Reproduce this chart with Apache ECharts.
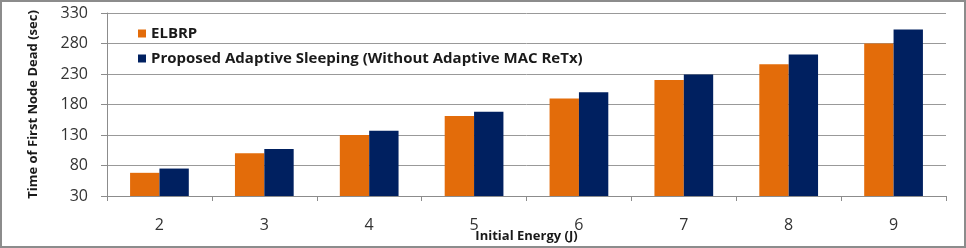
<!DOCTYPE html>
<html><head><meta charset="utf-8">
<script src="https://cdn.jsdelivr.net/npm/echarts@6/dist/echarts.min.js"></script>
<style>html,body{margin:0;padding:0;background:#fff}#c{width:966px;height:248px;box-sizing:border-box;border:2px solid #8c8c8c}</style>
</head><body><div id="c"></div>
<script>
const categories = ['2','3','4','5','6','7','8','9'];
const elbrp = [68, 100, 130, 161, 190, 220, 246, 280];
const proposed = [75, 107, 137, 168, 200, 229, 262, 303];
const seriesNames = ['ELBRP', 'Proposed Adaptive Sleeping (Without Adaptive MAC ReTx)'];
const chart = echarts.init(document.getElementById('c'));
chart.setOption({
  animation: false,
  textStyle: {fontFamily: 'DejaVu Sans'},
  grid: {left: 105, right: 18, top: 11, bottom: 50, containLabel: false, outerBoundsMode: 'none'},
  legend: {
    orient: 'vertical', left: 131, top: 19, itemGap: 10,
    itemWidth: 8, itemHeight: 8, icon: 'rect',
    textStyle: {fontSize: 15, fontWeight: 'bold', color: '#1a1a1a', fontFamily: 'Open Sans'},
    data: seriesNames
  },
  xAxis: {
    type: 'category', data: categories,
    name: 'Initial Energy (J)', nameLocation: 'middle', nameGap: 34, nameMoveOverlap: false,
    nameTextStyle: {fontSize: 13, fontWeight: 'bold', color: '#1a1a1a', fontFamily: 'Open Sans'},
    axisLine: {lineStyle: {color: '#8c8c8c', width: 1}},
    axisTick: {show: true, length: 5, lineStyle: {color: '#8c8c8c'}},
    axisLabel: {fontSize: 16, color: '#333', margin: 21, fontFamily: 'Open Sans'}
  },
  yAxis: {
    type: 'value', min: 30, max: 330, interval: 50,
    name: 'Time of First Node Dead (sec)', nameLocation: 'middle', nameGap: 67, nameRotate: 90, nameMoveOverlap: false,
    nameTextStyle: {fontSize: 13, fontWeight: 'bold', color: '#1a1a1a', fontFamily: 'Open Sans'},
    axisLine: {show: true, lineStyle: {color: '#8c8c8c', width: 1}},
    axisTick: {show: true, length: 6, lineStyle: {color: '#8c8c8c'}},
    axisLabel: {fontSize: 16, color: '#333', margin: 19, fontFamily: 'Open Sans'},
    splitLine: {lineStyle: {color: '#999', width: 1}}
  },
  series: [
    {name: seriesNames[0], type: 'bar', data: elbrp, barGap: '0%', barCategoryGap: '44%', itemStyle: {color: '#E36C0A'}},
    {name: seriesNames[1], type: 'bar', data: proposed, itemStyle: {color: '#002060'}}
  ]
});
</script></body></html>
